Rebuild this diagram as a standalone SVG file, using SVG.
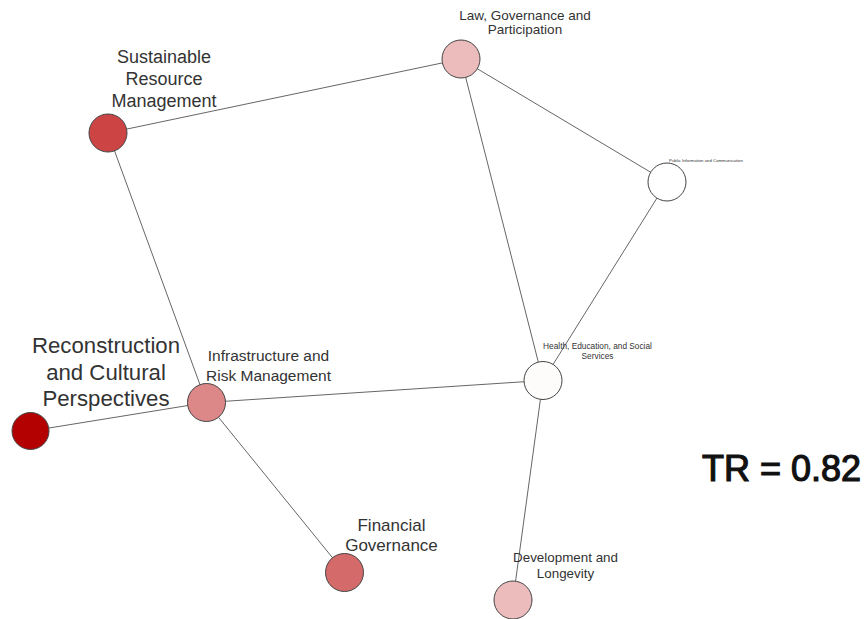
<svg xmlns="http://www.w3.org/2000/svg" width="866" height="619" viewBox="0 0 866 619">
<style>
.e{stroke:#666;stroke-width:1;fill:none}
.n{stroke:#444;stroke-width:1}
.t{font-family:"Liberation Sans",Arial,sans-serif;fill:#333;text-anchor:middle}
</style>
<rect width="866" height="619" fill="#fff"/>
<g id="connectors">
<line class="e" x1="108" y1="133" x2="461" y2="59"/>
<line class="e" x1="108" y1="133" x2="206.5" y2="402.5"/>
<line class="e" x1="461" y1="59" x2="667" y2="182"/>
<line class="e" x1="461" y1="59" x2="543" y2="380.5"/>
<line class="e" x1="667" y1="182" x2="543" y2="380.5"/>
<line class="e" x1="543" y1="380.5" x2="206.5" y2="402.5"/>
<line class="e" x1="543" y1="380.5" x2="513" y2="600"/>
<line class="e" x1="206.5" y1="402.5" x2="30.5" y2="431"/>
<line class="e" x1="206.5" y1="402.5" x2="344.5" y2="572.5"/>
</g>
<g id="law">
<circle class="n" cx="461" cy="59" r="19" fill="#ebbcbb"/>
<text class="t" x="525" y="20" font-size="13.5">Law, Governance and</text>
<text class="t" x="525" y="34" font-size="13.5">Participation</text>
</g>
<g id="sustainable">
<circle class="n" cx="108" cy="133" r="19" fill="#cc4444"/>
<text class="t" x="164" y="63" font-size="18">Sustainable</text>
<text class="t" x="164" y="85" font-size="18">Resource</text>
<text class="t" x="164" y="107" font-size="18">Management</text>
</g>
<g id="public">
<circle class="n" cx="667" cy="182" r="19" fill="#ffffff"/>
<text class="t" x="706" y="162" font-size="4.3">Public Information and Communication</text>
</g>
<g id="health">
<circle class="n" cx="543" cy="380.5" r="19" fill="#fefcfa"/>
<text class="t" x="597.5" y="349" font-size="8.3">Health, Education, and Social</text>
<text class="t" x="597.5" y="359" font-size="8.3">Services</text>
</g>
<g id="infrastructure">
<circle class="n" cx="206.5" cy="402.5" r="19" fill="#dd8888"/>
<text class="t" x="268.5" y="361" font-size="15.5">Infrastructure and</text>
<text class="t" x="268.5" y="381" font-size="15.5">Risk Management</text>
</g>
<g id="reconstruction">
<circle class="n" cx="30.5" cy="431" r="18.5" fill="#b30000"/>
<text class="t" x="106" y="353" font-size="22.2">Reconstruction</text>
<text class="t" x="106" y="380" font-size="22.2">and Cultural</text>
<text class="t" x="106" y="406" font-size="22.2">Perspectives</text>
</g>
<g id="financial">
<circle class="n" cx="344.5" cy="572.5" r="19" fill="#d46a6a"/>
<text class="t" x="391.5" y="531" font-size="17">Financial</text>
<text class="t" x="391.5" y="551" font-size="17">Governance</text>
</g>
<g id="development">
<circle class="n" cx="513" cy="600" r="19" fill="#ebbcbb"/>
<text class="t" x="565.5" y="562" font-size="13.4">Development and</text>
<text class="t" x="565.5" y="578" font-size="13.4">Longevity</text>
</g>
<text x="702" y="481" font-family="'Liberation Sans',Arial,sans-serif" font-size="36" fill="#111" stroke="#111" stroke-width="1.2">TR = 0.82</text>
</svg>
